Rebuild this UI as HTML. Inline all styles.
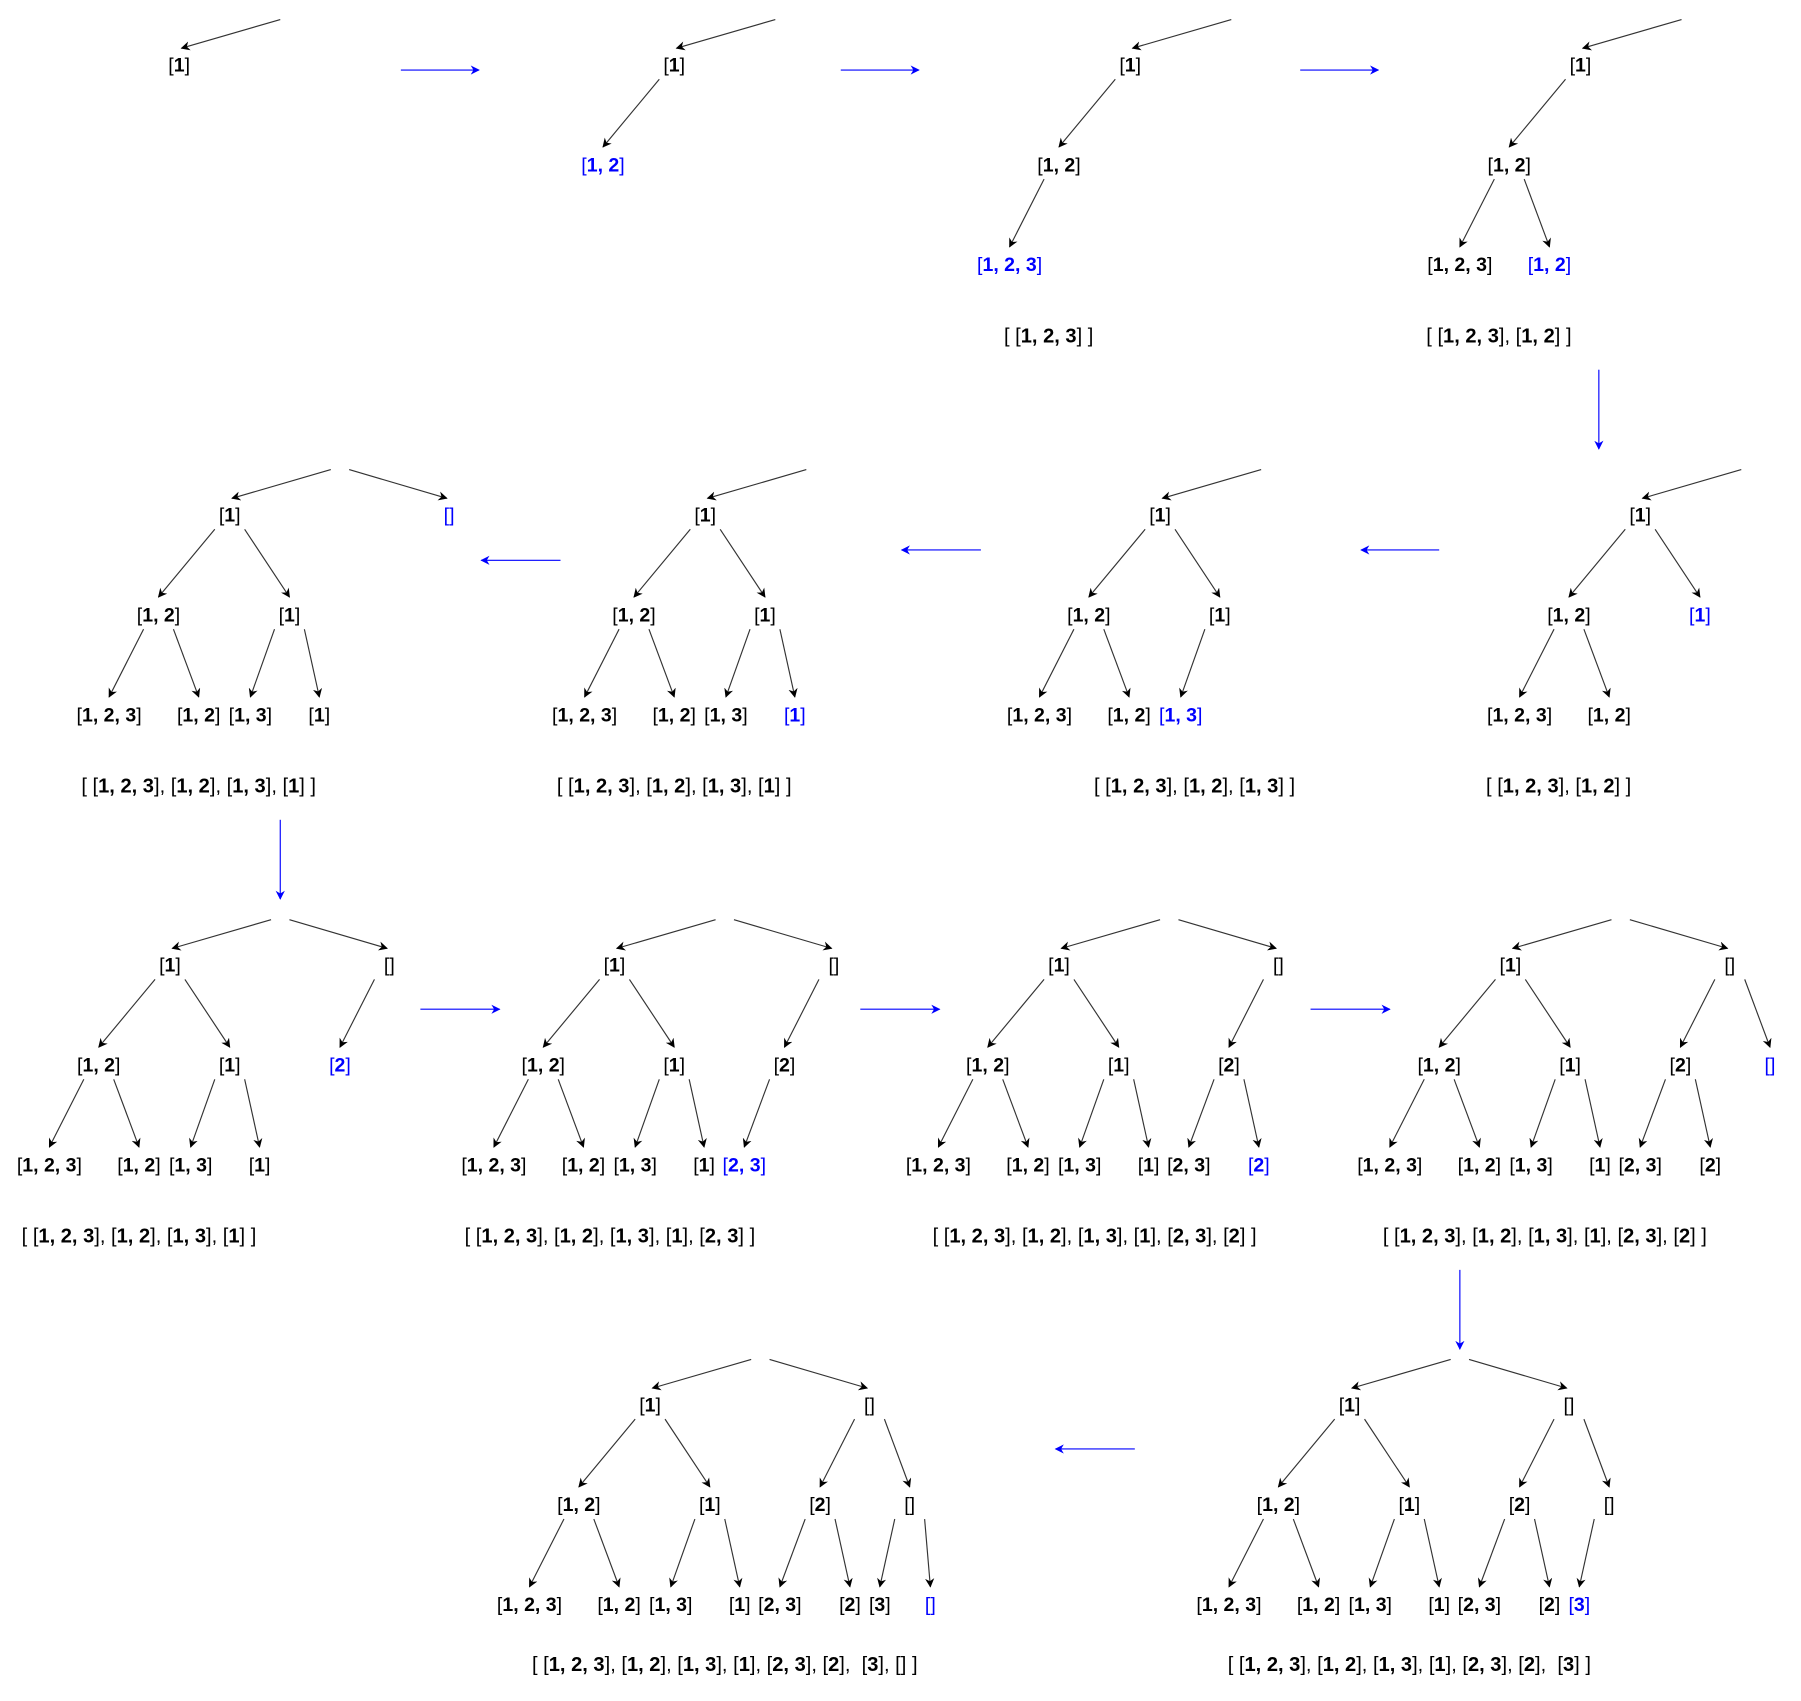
<!DOCTYPE html>
<html><head><meta charset="utf-8">
<style>
html,body{margin:0;padding:0;background:#fff;}
svg{display:block;}
text{font-family:"Liberation Sans Narrow","Liberation Sans",Arial,sans-serif;font-size:17px;white-space:pre;}
text.sum{font-size:17.5px;}
</style></head>
<body>
<svg id="chart" width="1801" height="1701" viewBox="0 0 1568 1481.5" preserveAspectRatio="none" xmlns="http://www.w3.org/2000/svg">
<defs>
<marker id="ak" viewBox="0 0 10 10" refX="9" refY="5" markerWidth="8" markerHeight="8" orient="auto" markerUnits="userSpaceOnUse"><path d="M0,0 L10,5 L0,10 L3,5 z" fill="#000"/></marker>
<marker id="ab" viewBox="0 0 10 10" refX="9" refY="5" markerWidth="8" markerHeight="8" orient="auto" markerUnits="userSpaceOnUse"><path d="M0,0 L10,5 L0,10 L3,5 z" fill="#00f"/></marker>
</defs>
</svg>
<script>
const nodeIds = ['A','B','C','D','E','F','G','H','I','J','K','L','M','N'];
const nodeLabels = ['[1]','[]','[1, 2]','[1]','[2]','[]','[1, 2, 3]','[1, 2]','[1, 3]','[1]','[2, 3]','[2]','[3]','[]'];
const nodeLevels = [1,1,2,2,2,2,3,3,3,3,3,3,3,3];
const nodeParents = [null,null,'A','A','B','B','C','C','D','D','E','E','F','F'];
const nodeOffsets = [0,191,-62,52,148,226,-105,-27,18,78,113,174,200,244];
const treeRootX = [156,587,984,1376,1428,1010,614,200,148,535,922,1315,1175,566];
const treeTopY = [17,17,17,17,409,409,409,409,801,801,801,801,1184,1184];
const treeSummaryY = [null,null,293,293,685,685,685,685,1077,1077,1077,1077,1450,1450];
const treeSummaryX = [null,null,913,1305,1357,1040,587,173,121,531,953,1345,1227,631];
const treeNodes = ['A','AC','ACG','ACGH','ACGHD','ACGHDI','ACGHDIJ','ACGHDIJB','ACGHDIJBE','ACGHDIJBEK','ACGHDIJBEKL','ACGHDIJBEKLF','ACGHDIJBEKLFM','ACGHDIJBEKLFMN'];
const treeBlue = ['','C','G','H','D','I','J','B','E','K','L','F','M','N'];
const treeSummary = [null,null,
 '[1, 2, 3]','[1, 2, 3]|[1, 2]','[1, 2, 3]|[1, 2]','[1, 2, 3]|[1, 2]|[1, 3]',
 '[1, 2, 3]|[1, 2]|[1, 3]|[1]','[1, 2, 3]|[1, 2]|[1, 3]|[1]','[1, 2, 3]|[1, 2]|[1, 3]|[1]',
 '[1, 2, 3]|[1, 2]|[1, 3]|[1]|[2, 3]','[1, 2, 3]|[1, 2]|[1, 3]|[1]|[2, 3]|[2]','[1, 2, 3]|[1, 2]|[1, 3]|[1]|[2, 3]|[2]',
 '[1, 2, 3]|[1, 2]|[1, 3]|[1]|[2, 3]|[2]| [3]','[1, 2, 3]|[1, 2]|[1, 3]|[1]|[2, 3]|[2]| [3]|[]'];
const stepArrows = [[349,61,417,61],[732,61,800,61],[1132,61,1200,61],[1392,322,1392,391],
 [1253,479,1185,479],[854,479,785,479],[488,488,419,488],[244,714,244,783],
 [366,879,435,879],[749,879,818,879],[1141,879,1210,879],[1271,1106,1271,1175],[988,1262,919,1262]];

const svg = document.getElementById('chart');
const NS = 'http://www.w3.org/2000/svg';
function mk(tag, attrs){const e=document.createElementNS(NS,tag);for(const k in attrs)e.setAttribute(k,attrs[k]);return e;}
function line(x1,y1,x2,y2,blue,g){
  const l=mk('line',{x1:x1,y1:y1,x2:x2,y2:y2,stroke:blue?'#00f':'#333','stroke-width':1,'marker-end':blue?'url(#ab)':'url(#ak)'});
  
  
  g.appendChild(l);
}
function addRich(t,str){
  let buf='',bold=null;
  const flush=()=>{if(buf){const sp=mk('tspan',{});if(bold)sp.setAttribute('font-weight','bold');sp.textContent=buf;t.appendChild(sp);}buf='';};
  for(const ch of str){const b=!(ch==='['||ch===']');if(bold!==null&&b!==bold)flush();bold=b;buf+=ch;}
  flush();
}
function label(x,y,str,color,g){
  const t=mk('text',{x:x,y:y,'text-anchor':'middle','dominant-baseline':'central',fill:color});
  
  
  addRich(t,str);
  g.appendChild(t);return t;
}
for(const a of stepArrows){ line(a[0],a[1],a[2],a[3],true,svg); }
treeRootX.forEach((rx,ti)=>{
  const g=mk('g',{});
  
  
  svg.appendChild(g);
  const top=treeTopY[ti];
  const levY=l=>top+40+(l-1)*87;
  const present=treeNodes[ti].split('');
  const pos={};
  present.forEach(id=>{const i=nodeIds.indexOf(id);pos[id]={x:rx+nodeOffsets[i],y:levY(nodeLevels[i]),i:i};});
  line(rx+88,top,pos.A.x+2,pos.A.y-15,false,g);
  if(pos.B) line(rx+104,top,pos.B.x-2,pos.B.y-15,false,g);
  present.forEach(id=>{
    const p=pos[id];const par=nodeParents[p.i];
    if(par){const q=pos[par];const s=p.x<q.x?-13:13;
      line(q.x+s,q.y+12,p.x,p.y-16,false,g);}
    label(p.x,p.y,nodeLabels[p.i],id===treeBlue[ti]?'#00f':'#000',g);
  });
  if(treeSummary[ti]){
    const t=mk('text',{x:treeSummaryX[ti],y:treeSummaryY[ti],'text-anchor':'middle','dominant-baseline':'central',fill:'#000','class':'sum'});
    
    
    const parts=treeSummary[ti].split('|');
    const add=(s,b)=>{const sp=mk('tspan',{});if(b)sp.setAttribute('font-weight','bold');sp.textContent=s;t.appendChild(sp);};
    add('[ ',false);
    parts.forEach((p,k)=>{ if(k>0) add(', ',false); addRich(t,p); });
    add(' ]',false);
    g.appendChild(t);
  }
});
</script>
</body></html>
